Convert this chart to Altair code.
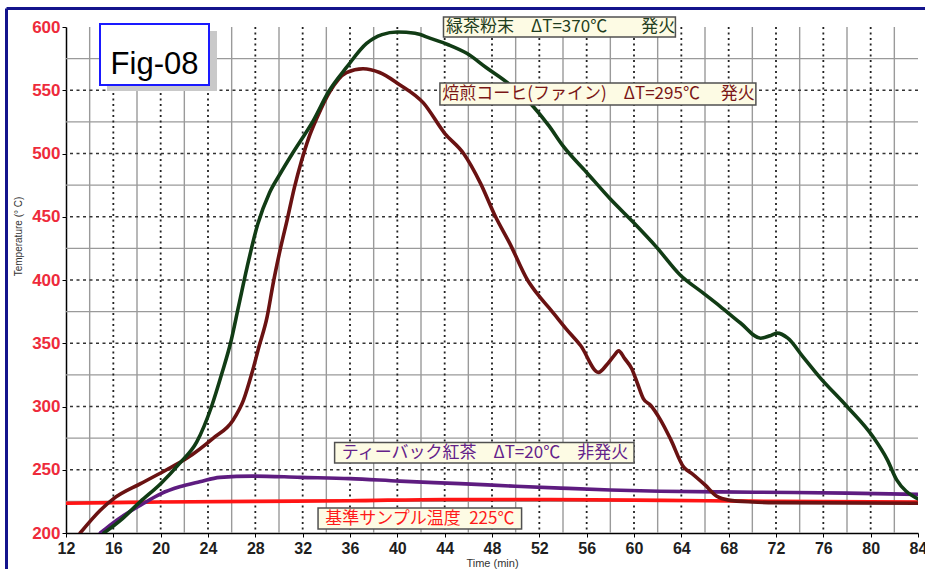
import altair as alt
import pandas as pd

# ---- measured temperatures (°C) against elapsed time (min) ----
green_t = [15.2, 16.6, 18.3, 20.0, 21.6, 23.05, 24.3, 25.2, 25.9, 26.6, 27.3, 28.2, 29.2,
           30.1, 31.2, 32.9, 34.2, 35.7, 37.4, 38.7, 40.0, 41.5, 42.8, 44.3, 45.9,
           47.5, 49.3, 51.5, 52.8, 54.0, 56.0, 58.0, 59.9, 61.9, 63.9, 65.8, 67.3, 69.0,
           70.7, 71.5, 72.1, 73.0, 74.3, 75.7, 78.0, 80.2, 81.4, 82.2, 83.0, 83.6, 84.0]
green_T = [200, 210, 225, 239, 255, 272, 300, 327, 350, 380, 410, 444, 469,
           484, 501, 526, 549, 568, 587, 594, 596, 595, 591, 586, 579,
           568, 556, 537, 522, 506, 485, 464, 446, 426, 404, 390, 379, 366,
           354, 356, 358, 354, 339, 323, 300, 276, 258, 242, 233, 229, 227]

coffee_t = [13.2, 14.9, 16.0, 18.3, 20.5, 22.2, 24.45, 26.1, 27.0, 27.7, 28.3, 29.0, 29.5,
            30.1, 30.7, 31.3, 31.9, 32.5, 33.2, 34.3, 35.7, 37.1, 38.5, 40.1, 42.2, 44.0,
            45.6, 47.0, 48.3, 49.5, 51.0, 52.0, 53.0, 54.3, 55.5, 57.0, 57.7, 58.3, 58.7,
            59.2, 59.8, 60.3, 60.8, 61.4, 62.2, 63.1, 64.2, 64.9, 66.0, 67.0, 68.0, 70.0,
            72.0, 84.0]
coffee_T = [200, 218, 227, 239, 250, 259, 275, 289, 305, 326, 347, 371, 397,
            424, 448, 473, 494, 512, 528, 549, 564, 567, 564, 555, 540, 516,
            500, 477, 450, 429, 400, 387, 376, 361, 348, 327, 333, 340, 344,
            338, 330, 318, 306, 301, 290, 274, 252, 247, 238, 229, 226, 224.5,
            224, 223.5]

teabag_t = [14.9, 15.7, 16.9, 18.3, 20.0, 21.6, 23.3, 25.0, 27.8, 31.8, 36.0, 40.2,
            45.3, 50.0, 53.8, 58.0, 62.2, 67.3, 73.5, 78.0, 84.0]
teabag_T = [200, 206, 214, 222, 231, 236.5, 240.5, 244, 245, 244, 243, 241,
            239, 237, 235.5, 234, 233, 232.5, 232, 231.5, 230.5]

ref_t = [12, 16, 20, 28, 36, 44, 52, 60, 66, 72, 84]
ref_T = [223.5, 224, 224.5, 225, 225.5, 226.5, 226.5, 226, 225.5, 225, 224.5]

# ---- axes ----
x_ticks = list(range(12, 85, 4))
y_ticks = list(range(200, 601, 50))
x_minor = list(range(14, 84, 4))          # solid grey verticals
y_minor = list(range(225, 600, 50))       # solid grey horizontals
x_major = list(range(16, 84, 4))          # dotted verticals
y_major = list(range(250, 600, 50))       # dotted horizontals

# ---- annotations ----
label_text = ["緑茶粉末　ΔT=370℃　　発火",
              "焙煎コーヒ(ファイン)　ΔT=295℃　 発火",
              "ティーバック紅茶　ΔT=20℃　非発火",
              "基準サンプル温度\u2002225℃"]
label_t = [53.8, 57.0, 47.4, 41.9]
label_temp = [599.8, 546.8, 263.2, 211.4]
box_t0 = [43.9, 43.6, 34.7, 33.3]
box_t1 = [63.5, 70.3, 60.0, 50.5]
box_top = [607.9, 555.7, 271.6, 219.8]
box_bottom = [592.1, 538.3, 255.3, 203.2]
label_colors = ["#1f3d20", "#7a1616", "#64228a", "#ff1a1a"]

W, H = 852, 506
xs = alt.Scale(domain=[12, 84], nice=False, zero=False)
ys = alt.Scale(domain=[200, 600], nice=False, zero=False)


def series_layer(t, temp, color):
    df = pd.DataFrame({"t": t, "T": temp})
    return alt.Chart(df).mark_line(
        color=color, strokeWidth=3.6, interpolate="monotone", clip=True,
        strokeCap="round", strokeJoin="round"
    ).encode(
        x=alt.X("t:Q", scale=xs, axis=None),
        y=alt.Y("T:Q", scale=ys, axis=None),
    )


def vrules(vals, **kw):
    return alt.Chart(pd.DataFrame({"v": vals})).mark_rule(**kw).encode(
        x=alt.X("v:Q", scale=xs, axis=None))


def hrules(vals, **kw):
    return alt.Chart(pd.DataFrame({"v": vals})).mark_rule(**kw).encode(
        y=alt.Y("v:Q", scale=ys, axis=None))


one = alt.Data(values=[{"k": 0}])

# outer navy frame
frame_top = alt.Chart(one).mark_rule(color="#14148c", strokeWidth=3).encode(
    x=alt.value(-59.5), x2=alt.value(870), y=alt.value(-18.5))
frame_left = alt.Chart(one).mark_rule(color="#14148c", strokeWidth=3).encode(
    x=alt.value(-59.5), y=alt.value(-18.5), y2=alt.value(560))

grid_solid_v = vrules(x_minor, color="#9a9a9a", strokeWidth=1.4)
grid_solid_h = hrules(y_minor, color="#9a9a9a", strokeWidth=1.4)
grid_dot_v = vrules(x_major, color="#222222", strokeWidth=1.8, strokeDash=[2, 3.5])
grid_dot_h = hrules(y_major, color="#333333", strokeWidth=1.6, strokeDash=[3, 3.5])

# axes carried by an invisible layer
axes = alt.Chart(pd.DataFrame({"t": [12, 84], "T": [200, 600]})).mark_point(opacity=0).encode(
    x=alt.X("t:Q", scale=xs, axis=alt.Axis(
        values=x_ticks, title="Time (min)", grid=False,
        labelFont="Liberation Sans", labelFontSize=16, labelFontWeight="bold",
        labelColor="#1e1e1e", labelPadding=3, labelFlush=False, labelOverlap=False,
        domainColor="#000000", domainWidth=1.5, tickColor="#000000", tickSize=4,
        titleFont="Liberation Sans", titleFontSize=11, titleFontWeight="normal",
        titleColor="#333333", titleX=426, titleY=30, titleAlign="center",
        titleBaseline="middle")),
    y=alt.Y("T:Q", scale=ys, axis=alt.Axis(
        values=y_ticks, title="Temperature (° C)", grid=False,
        labelFont="Liberation Sans", labelFontSize=17, labelFontWeight="bold",
        labelColor="#ee2b3b", labelPadding=2, labelFlush=False, labelOverlap=False,
        domainColor="#000000", domainWidth=1.5, tickColor="#000000", tickSize=4,
        titleFont="Liberation Sans", titleFontSize=10, titleFontWeight="normal",
        titleColor="#333333", titleX=-48, titleY=209, titleAlign="center",
        titleBaseline="middle")),
)

ann = pd.DataFrame({
    "text": label_text, "t": label_t, "T": label_temp,
    "t0": box_t0, "t1": box_t1, "top": box_top, "bottom": box_bottom,
    "c": label_colors,
})
boxes = alt.Chart(ann).mark_rect(fill="#fdfbe4", stroke="#505050", strokeWidth=1.5).encode(
    x=alt.X("t0:Q", scale=xs, axis=None), x2="t1:Q",
    y=alt.Y("top:Q", scale=ys, axis=None), y2="bottom:Q")
texts = alt.Chart(ann).mark_text(
    font="Noto Sans CJK JP", fontSize=17, align="center", baseline="middle"
).encode(
    x=alt.X("t:Q", scale=xs, axis=None),
    y=alt.Y("T:Q", scale=ys, axis=None),
    text="text:N",
    color=alt.Color("c:N", scale=None),
)

# figure tag in the upper left
fig_shadow = alt.Chart(one).mark_rect(fill="#c9c9c9").encode(
    x=alt.value(41), x2=alt.value(151), y=alt.value(4), y2=alt.value(64))
fig_box = alt.Chart(one).mark_rect(fill="#ffffff", stroke="#1a1aff", strokeWidth=2).encode(
    x=alt.value(34), x2=alt.value(143), y=alt.value(-3), y2=alt.value(58))
fig_text = alt.Chart(one).mark_text(
    text="Fig-08", font="Liberation Sans", fontSize=31, color="#000000",
    align="center", baseline="alphabetic").encode(x=alt.value(88.5), y=alt.value(47))

chart = alt.layer(
    frame_top, frame_left,
    grid_solid_v, grid_solid_h, grid_dot_v, grid_dot_h,
    axes,
    series_layer(ref_t, ref_T, "#ff1414"),
    series_layer(teabag_t, teabag_T, "#5e1c80"),
    series_layer(coffee_t, coffee_T, "#6a1212"),
    series_layer(green_t, green_T, "#113c15"),
    boxes, texts,
    fig_shadow, fig_box, fig_text,
).resolve_axis(
    x="independent", y="independent"
).properties(
    width=W, height=H,
    padding={"left": 66, "top": 27, "right": 7, "bottom": 36},
    autosize=alt.AutoSizeParams(type="none"),
    background="#ffffff",
).configure_view(stroke=None)

chart.save("out.html", embed_options={"renderer": "svg", "actions": False})
